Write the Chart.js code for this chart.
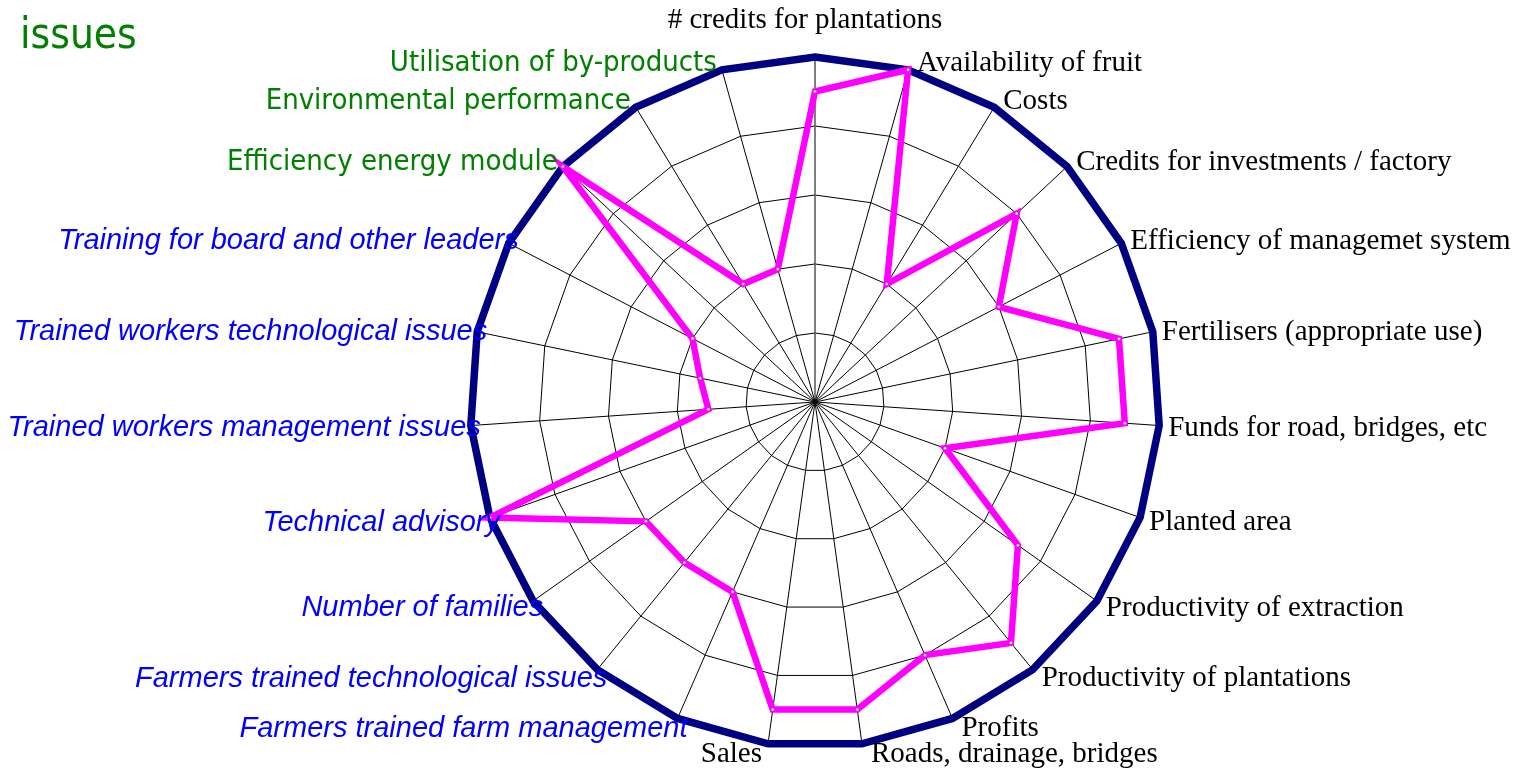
<!DOCTYPE html>
<html>
<head>
<meta charset="utf-8">
<script src="https://cdn.jsdelivr.net/npm/chart.js@4.4.1/dist/chart.umd.min.js"></script>
<style>
  html, body { margin: 0; padding: 0; background: #fff; overflow: hidden; }
  #wrap { position: relative; width: 1536px; height: 768px; }
  #title {
    position: absolute; left: 20px; top: 13px;
    font: 42px/42px "DejaVu Sans Condensed", "DejaVu Sans", sans-serif;
    color: #008000;
  }
  canvas { position: absolute; left: 0; top: 0; }
</style>
</head>
<body>
<div id="wrap">
  <canvas id="radar" width="1536" height="768"></canvas>
  <div id="title">issues</div>
</div>
<script>
const categories = [
  "# credits for plantations",
  "Availability of fruit",
  "Costs",
  "Credits for investments / factory",
  "Efficiency of managemet system",
  "Fertilisers (appropriate use)",
  "Funds for road, bridges, etc",
  "Planted area",
  "Productivity of extraction",
  "Productivity of plantations",
  "Profits",
  "Roads, drainage, bridges",
  "Sales",
  "Farmers trained farm management",
  "Farmers trained technological issues",
  "Number of families",
  "Technical advisory",
  "Trained workers management issues",
  "Trained workers technological issues",
  "Training for board and other leaders",
  "Efficiency energy module",
  "Environmental performance",
  "Utilisation of by-products",
];

// target level (outer line) and current assessment
const targetValues = [5, 5, 5, 5, 5, 5, 5, 5, 5, 5, 5, 5, 5, 5, 5, 5, 5, 5, 5, 5, 5, 5, 5];
const actualValues = [4.5, 5, 2, 4, 3, 4.5, 4.5, 2, 3.6, 4.5, 4, 4.5, 4.5, 3, 3, 3, 5, 1.55, 1.7, 2, 5, 2, 2];

const tickValues = [0, 1, 2, 3, 4, 5];

// label groups: k = economic/technical, b = training, g = environment
const labelGroups = [
  "k", "k", "k", "k", "k", "k", "k", "k", "k", "k", "k", "k", "k",
  "b", "b", "b", "b", "b", "b", "b",
  "g", "g", "g",
];

const groupStyles = {
  k: { font: '29px "Liberation Serif", "Times New Roman", serif', color: "#000000", gapRight: 9, gapLeft: 6 },
  b: { font: 'italic 29px "Liberation Sans", Arial, sans-serif', color: "#0000FF", gapRight: 9, gapLeft: -10 },
  g: { font: '29px "DejaVu Sans Condensed", "DejaVu Sans", sans-serif', color: "#008000", gapRight: 9, gapLeft: 5 },
};

const axisLabels = {
  id: "axisLabels",
  afterDraw(chart) {
    const scale = chart.scales.r;
    const ctx = chart.ctx;
    ctx.save();
    ctx.textBaseline = "middle";
    categories.forEach((text, i) => {
      const st = groupStyles[labelGroups[i]];
      const p = scale.getPointPosition(i, scale.drawingArea);
      const a = scale.getIndexAngle(i);
      const s = Math.sin(a);
      let x;
      let y = p.y - 9 * Math.cos(a);
      if (i === 0) {
        ctx.textAlign = "center";
        x = p.x - 10;
        y = p.y - 37;
      } else if (s > 0) {
        ctx.textAlign = "left";
        x = p.x + st.gapRight;
        y += 2;
      } else {
        ctx.textAlign = "right";
        x = p.x - st.gapLeft;
        y += 2;
      }
      ctx.font = st.font;
      ctx.fillStyle = st.color;
      ctx.fillText(text, x, y);
    });
    ctx.restore();
  },
};

new Chart(document.getElementById("radar"), {
  type: "radar",
  data: {
    labels: categories,
    datasets: [
      {
        label: "actual",
        data: actualValues,
        borderColor: "#FF00FF",
        backgroundColor: "rgba(0,0,0,0)",
        borderWidth: 6.5,
        fill: false,
        pointRadius: 1.5,
        pointBackgroundColor: "#ffffff",
        pointBorderColor: "#666666",
        pointBorderWidth: 0.5,
      },
      {
        label: "target",
        data: targetValues,
        borderColor: "#000080",
        backgroundColor: "rgba(0,0,0,0)",
        borderWidth: 7.5,
        fill: false,
        pointRadius: 0,
      },
    ],
  },
  options: {
    responsive: false,
    animation: false,
    devicePixelRatio: 1,
    layout: { padding: { left: 94, right: 0, top: 53, bottom: 17 } },
    plugins: { legend: { display: false }, tooltip: { enabled: false } },
    scales: {
      r: {
        min: tickValues[0],
        max: tickValues[tickValues.length - 1],
        ticks: {
          stepSize: 1,
          font: { size: 4 },
          color: "#999999",
          showLabelBackdrop: false,
          backdropPadding: 2,
        },
        grid: { color: "#000000", lineWidth: 1 },
        angleLines: { color: "#000000", lineWidth: 1 },
        pointLabels: { display: false },
      },
    },
  },
  plugins: [axisLabels],
});
</script>
</body>
</html>
